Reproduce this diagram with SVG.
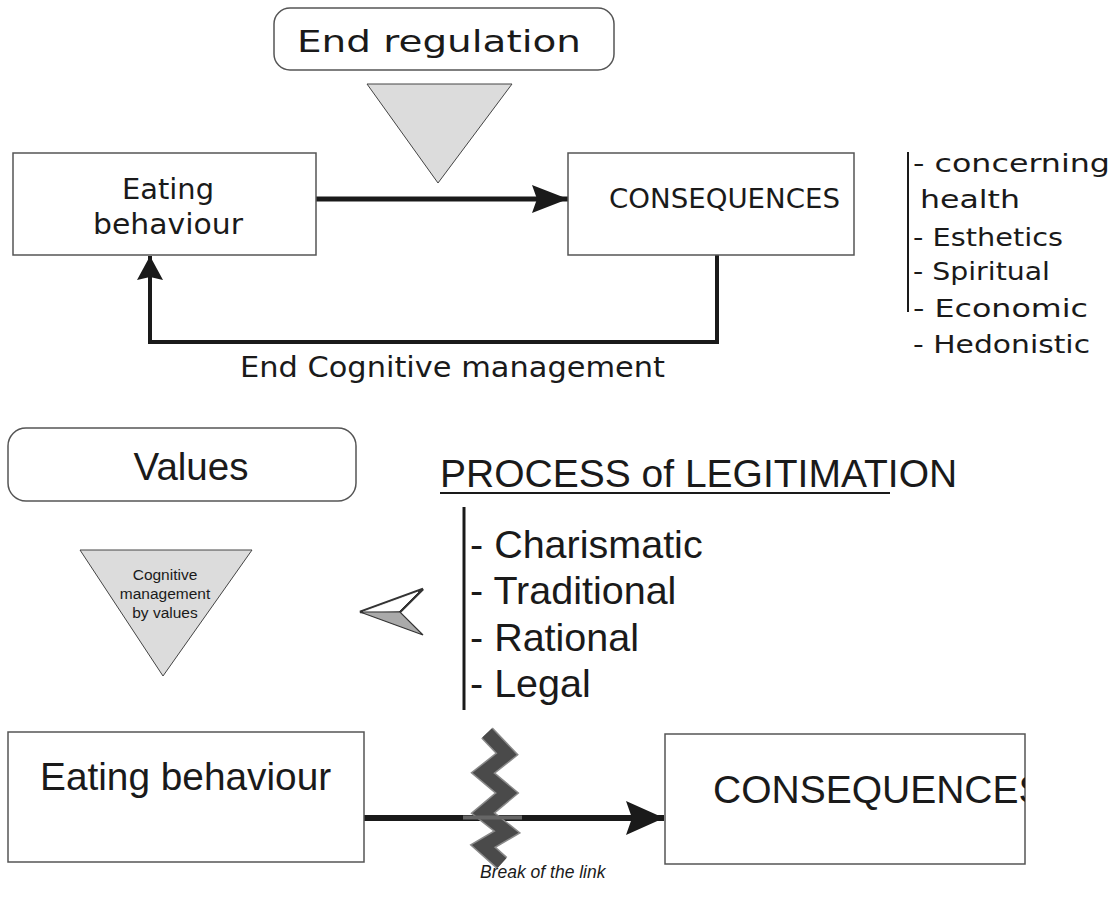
<svg xmlns="http://www.w3.org/2000/svg" width="1114" height="899" viewBox="0 0 1114 899">
<style>
.box{fill:#fff;stroke:#555;stroke-width:1.5}
.tri{fill:#dcdcdc;stroke:#444;stroke-width:1}
.g{font-family:"DejaVu Sans",sans-serif;fill:#1a1a1a}
.a{font-family:"Liberation Sans",Arial,sans-serif;fill:#1a1a1a}
.ln{fill:none;stroke:#1a1a1a;stroke-linejoin:miter}
</style>
<defs>
<marker id="ah" viewBox="0 0 36 28" refX="36" refY="14" markerWidth="36" markerHeight="28" markerUnits="userSpaceOnUse" orient="auto">
<path d="M0,0 L36,14 L0,28 L5,14 Z" fill="#1a1a1a"/>
</marker>
<marker id="ah2" viewBox="0 0 38 34" refX="38" refY="17" markerWidth="38" markerHeight="34" markerUnits="userSpaceOnUse" orient="auto">
<path d="M0,0 L38,17 L0,34 L6,17 Z" fill="#1a1a1a"/>
</marker>
<marker id="ah3" viewBox="0 0 24 26" refX="24" refY="13" markerWidth="24" markerHeight="26" markerUnits="userSpaceOnUse" orient="auto">
<path d="M0,0 L24,13 L0,26 L3,13 Z" fill="#1a1a1a"/>
</marker>
<clipPath id="cc"><rect x="665" y="734" width="360" height="130"/></clipPath>
</defs>

<g id="connectors">
<line class="ln" x1="316" y1="199" x2="568" y2="199" stroke-width="5" marker-end="url(#ah)"/>
<polyline class="ln" points="717,255 717,342 150,342 150,256" stroke-width="4" marker-end="url(#ah3)"/>
<line class="ln" x1="364" y1="818" x2="664" y2="818" stroke-width="6" marker-end="url(#ah2)"/>
</g>

<g id="end-regulation">
<rect class="box" x="274" y="8" width="340" height="62" rx="16"/>
<text class="g" x="297" y="52" font-size="30" textLength="284" lengthAdjust="spacingAndGlyphs">End regulation</text>
</g>
<g id="end-regulation-triangle">
<polygon class="tri" points="367,84 512,84 438,183"/>
</g>

<g id="eating-behaviour-top">
<rect class="box" x="13" y="153" width="303" height="102"/>
<text class="g" x="122" y="199" font-size="28" textLength="92" lengthAdjust="spacingAndGlyphs">Eating</text>
<text class="g" x="93" y="234" font-size="28" textLength="150" lengthAdjust="spacingAndGlyphs">behaviour</text>
</g>

<g id="consequences-top">
<rect class="box" x="568" y="153" width="286" height="102"/>
<text class="g" x="609" y="208" font-size="26" textLength="231" lengthAdjust="spacingAndGlyphs">CONSEQUENCES</text>
</g>

<g id="end-cognitive-label">
<text class="g" x="240" y="377" font-size="28" textLength="425" lengthAdjust="spacingAndGlyphs">End Cognitive management</text>
</g>

<g id="consequence-list">
<line x1="908" y1="152" x2="908" y2="312" stroke="#1a1a1a" stroke-width="2"/>
<text class="g" x="913" y="172" font-size="25" textLength="197" lengthAdjust="spacingAndGlyphs">- concerning</text>
<text class="g" x="920" y="208" font-size="25" textLength="100" lengthAdjust="spacingAndGlyphs">health</text>
<text class="g" x="913" y="246" font-size="25" textLength="150" lengthAdjust="spacingAndGlyphs">- Esthetics</text>
<text class="g" x="913" y="280" font-size="25" textLength="137" lengthAdjust="spacingAndGlyphs">- Spiritual</text>
<text class="g" x="913" y="317" font-size="25" textLength="175" lengthAdjust="spacingAndGlyphs">- Economic</text>
<text class="g" x="913" y="353" font-size="25" textLength="177" lengthAdjust="spacingAndGlyphs">- Hedonistic</text>
</g>

<g id="values">
<rect class="box" x="8" y="428" width="348" height="73" rx="18"/>
<text class="a" x="191" y="480" font-size="38.5" text-anchor="middle">Values</text>
</g>

<g id="process-of-legitimation">
<text class="a" x="440" y="487" font-size="39">PROCESS of LEGITIMATION</text>
<line x1="440" y1="493" x2="890" y2="493" stroke="#1a1a1a" stroke-width="2"/>
<line x1="464" y1="507" x2="464" y2="710" stroke="#1a1a1a" stroke-width="3"/>
<text class="a" x="470" y="558" font-size="39.5">- Charismatic</text>
<text class="a" x="470" y="604" font-size="39.5">- Traditional</text>
<text class="a" x="470" y="651" font-size="39.5">- Rational</text>
<text class="a" x="470" y="697" font-size="39.5">- Legal</text>
</g>

<g id="cognitive-management-by-values">
<polygon class="tri" points="80,550 252,550 163,676"/>
<text class="a" x="165" y="580" font-size="15.5" text-anchor="middle">Cognitive</text>
<text class="a" x="165" y="599" font-size="15.5" text-anchor="middle">management</text>
<text class="a" x="165" y="618" font-size="15.5" text-anchor="middle">by values</text>
</g>

<g id="pointer-arrow">
<polygon points="360,612 423,589 400,612" fill="#fff" stroke="#333" stroke-width="2.5"/>
<polygon points="363,612 418,592 399,611" fill="#fff" stroke="#fff" stroke-width="0.8"/>
<polygon points="360,612 400,612 423,635" fill="#aaa" stroke="#333" stroke-width="1.2"/>
</g>

<g id="eating-behaviour-bottom">
<rect class="box" x="8" y="732" width="356" height="130"/>
<text class="a" x="40" y="790" font-size="38.8">Eating behaviour</text>
</g>

<g id="consequences-bottom">
<rect class="box" x="665" y="734" width="360" height="130"/>
<text class="a" x="713" y="803" font-size="39" clip-path="url(#cc)">CONSEQUENCES</text>
</g>

<g id="break">
<polyline points="487,733 507,754 483,773 507,793 483,813 507,832 483,846 502,863" fill="none" stroke="#8a8a8a" stroke-width="16" stroke-linejoin="miter"/>
<polyline points="487,733 507,754 483,773 507,793 483,813 507,832 483,846 502,863" fill="none" stroke="#4a4a4a" stroke-width="13" stroke-linejoin="miter"/>
<rect x="463" y="815.5" width="59" height="4" fill="#666"/>
<text class="a" x="480" y="878" font-size="17.5" font-style="italic">Break of the link</text>
</g>
</svg>
